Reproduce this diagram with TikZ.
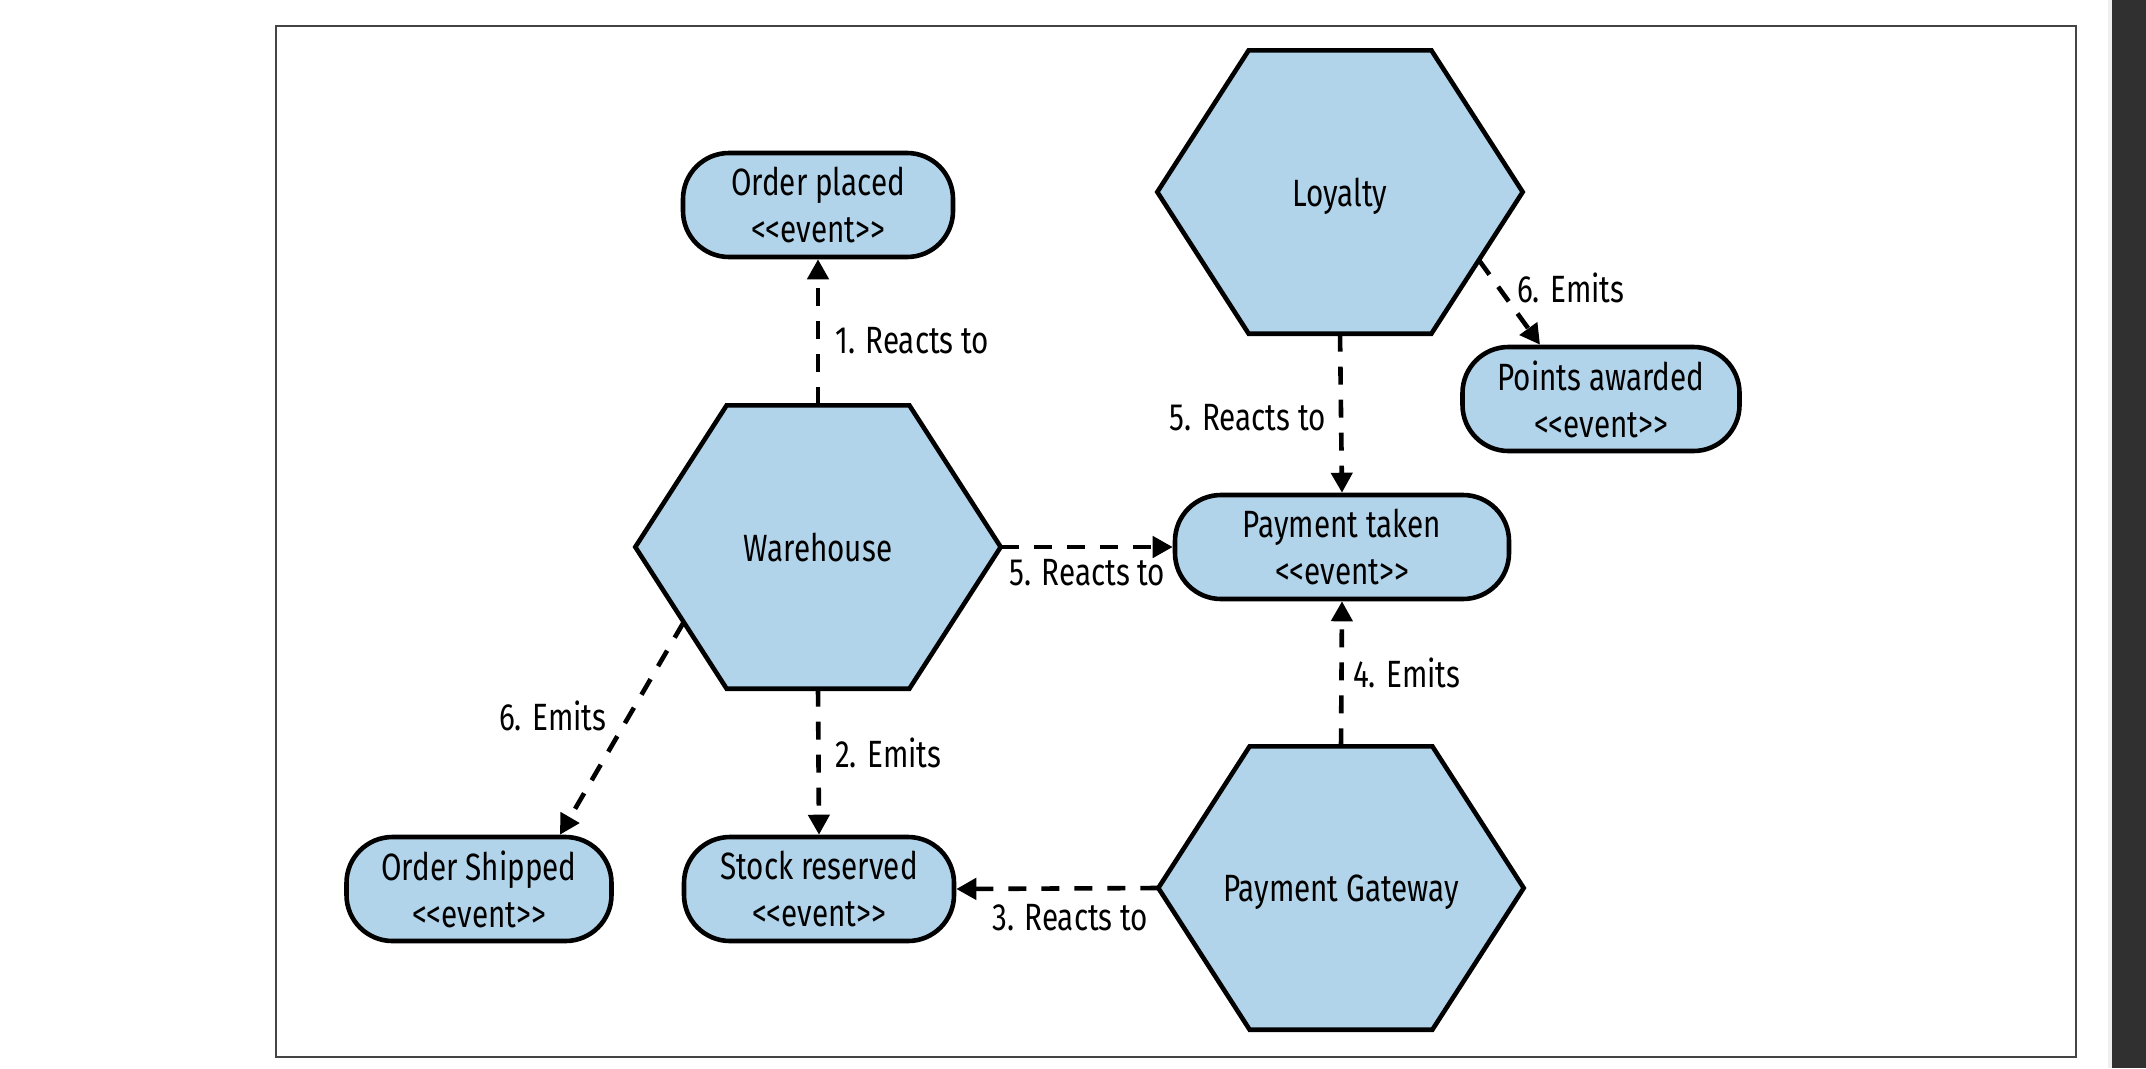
\documentclass[tikz,border=0pt]{standalone}
\usepackage{fontspec}
\setmainfont{Fira Sans}[FakeStretch=0.78]
\usetikzlibrary{arrows.meta,calc,backgrounds}
\definecolor{evfill}{RGB}{178,212,234}
\definecolor{framegray}{RGB}{68,68,68}
\definecolor{darkstrip}{RGB}{48,48,48}
\definecolor{lightstrip}{RGB}{239,239,239}
\newcommand\evt{<\kern0pt<event>\kern0pt>}
\begin{document}
\begin{tikzpicture}[x=1pt,y=-1pt,
  every node/.style={font=\fontsize{38}{47}\selectfont, text=black},
  hexnode/.style={minimum width=365pt, minimum height=283pt, inner sep=0pt, text depth=0pt},
  hexdraw/.style={draw=black, fill=evfill, line width=4.6pt, line join=miter},
  eventbox/.style={draw=black, fill=evfill, line width=4.6pt, rounded corners=46pt,
    minimum height=104pt, inner sep=0pt, align=center},
  flow/.style={line width=4.6pt, dash pattern=on 18pt off 15pt,
    -{Triangle[length=20pt,width=21pt]}},
  lbl/.style={inner sep=0pt}]
\useasboundingbox (0,0) rectangle (2146,1068);

% window strips
\fill[lightstrip] (2108,0) rectangle (2112,1068);
\fill[darkstrip] (2112,0) rectangle (2146,1068);

% hexagon services
\node[hexnode] (lo) at (1340,192) {Loyalty};
\node[hexnode] (wh) at (818,547) {Warehouse};
\node[hexnode] (pg) at (1341,888) {Payment Gateway};

\begin{scope}[on background layer]
  \fill[white] (0,0) rectangle (2108,1068);
  \draw[framegray, line width=2pt] (276,26) rectangle (2076,1057);
  \foreach \n in {lo,wh,pg}
    \draw[hexdraw] (\n.west) -- ($(\n.north west)!0.25!(\n.north east)$)
      -- ($(\n.north west)!0.75!(\n.north east)$) -- (\n.east)
      -- ($(\n.south west)!0.75!(\n.south east)$)
      -- ($(\n.south west)!0.25!(\n.south east)$) -- cycle;
\end{scope}

% events
\node[eventbox, minimum width=270pt] (op) at (818,205) {Order placed\\\evt};
\node[eventbox, minimum width=277pt] (pa) at (1601,399) {Points awarded\\\evt};
\node[eventbox, minimum width=334pt] (pt) at (1342,547) {Payment taken\\\evt};
\node[eventbox, minimum width=265pt] (os) at (479,889) {Order Shipped\\\evt};
\node[eventbox, minimum width=270pt] (sr) at (819,889) {Stock reserved\\\evt};

% helper points on slanted hexagon edges
\coordinate (whBL) at ($(wh.south west)!0.25!(wh.south east)$);
\coordinate (whA) at ($(wh.west)!0.53!(whBL)$);
\coordinate (loBR) at ($(lo.south west)!0.75!(lo.south east)$);
\coordinate (loA) at ($(lo.east)!0.48!(loBR)$);
\coordinate (osT) at ([xshift=81pt]os.north);
\coordinate (paT) at ([xshift=-61pt]pa.north);

% connectors
\draw[flow] (wh.north) -- (op.south);
\draw[flow] (wh.south) -- (sr.north);
\draw[flow] (pg.west) -- (sr.east);
\draw[flow] (pg.north) -- (pt.south);
\draw[flow] (lo.south) -- (pt.north);
\draw[flow] (wh.east) -- (pt.west);
\draw[flow] (whA) -- (osT);
\draw[flow] (loA) -- (paT);

% labels
\node[lbl, anchor=base west] (l1) at (835,353) {1. Reacts to};
\node[lbl, anchor=base west] (l2) at (835,767) {2. Emits};
\node[lbl, anchor=base west] (l3) at (992,930) {3. Reacts to};
\node[lbl, anchor=base west] (l4) at (1353,687) {4. Emits};
\node[lbl, anchor=base east] (l5a) at (1326,430) {5. Reacts to};
\node[lbl, anchor=base west] (l5b) at (1009,585) {5. Reacts to};
\node[lbl, anchor=base west] (l6a) at (499,730) {6. Emits};
\node[lbl, anchor=base west] (l6b) at (1517,302) {6. Emits};
\end{tikzpicture}
\end{document}
